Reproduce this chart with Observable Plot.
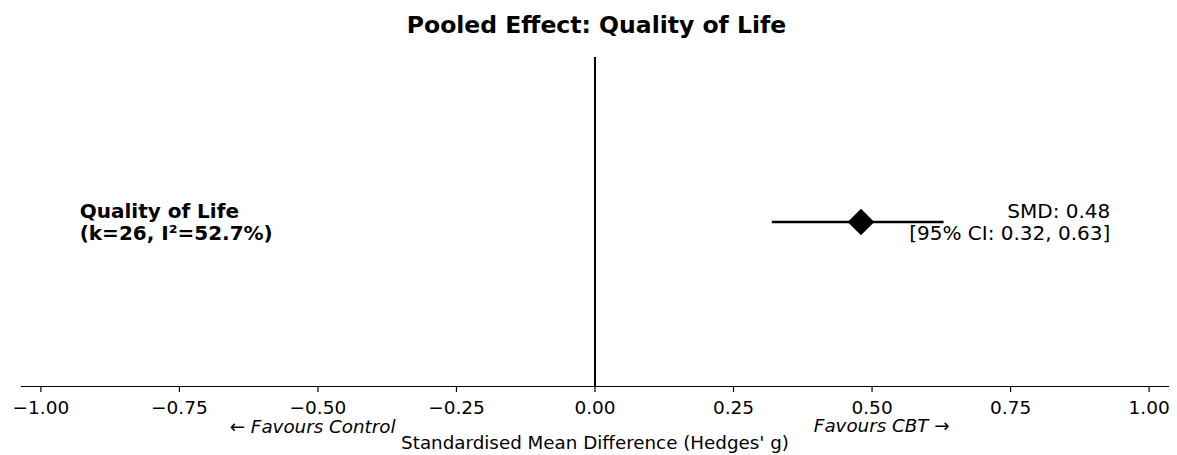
<!DOCTYPE html>
<html>
<head>
<meta charset="utf-8">
<script src="https://cdn.jsdelivr.net/npm/d3@7"></script>
<script src="https://cdn.jsdelivr.net/npm/@observablehq/plot@0.6"></script>
<style>
  body { margin: 0; background: #fff; font-family: "DejaVu Sans", sans-serif; }
  #title { margin-left: 23px; width: 1147px; height: 48px; line-height: 50px; text-align: center;
           font-weight: bold; font-size: 23.5px; color: #000; white-space: nowrap; }
</style>
</head>
<body>
<div id="title">Pooled Effect: Quality of Life</div>
<div id="chart"></div>
<script>
// Pooled estimate for the outcome
const outcomes = ["Quality of Life"];
const studies = [26];
const heterogeneity = [52.7];
const smd = [0.48];
const ciLow = [0.32];
const ciHigh = [0.63];

const xTicks = [-1, -0.75, -0.5, -0.25, 0, 0.25, 0.5, 0.75, 1];
const favourLabels = ["← Favours Control", "Favours CBT →"];
const favourPos = [-0.36, 0.395];
const axisTitle = "Standardised Mean Difference (Hedges' g)";

const rows = outcomes.map((name, i) => ({
  name,
  y: 0,
  smd: smd[i],
  lo: ciLow[i],
  hi: ciHigh[i],
  left: `${name}\n(k=${studies[i]}, I²=${heterogeneity[i].toFixed(1)}%)`,
  right: `SMD: ${smd[i].toFixed(2)}\n[95% CI: ${ciLow[i].toFixed(2)}, ${ciHigh[i].toFixed(2)}]`
}));

const favourControl = [{ t: favourLabels[0], x: favourPos[0] }];
const favourCBT = [{ t: favourLabels[1], x: favourPos[1] }];
const belowAxis = { frameAnchor: "bottom", lineAnchor: "middle", fontSize: 18.3, fill: "#000" };

const chart = Plot.plot({
  width: 1177,
  height: 407,
  marginLeft: 21,
  marginRight: 9,
  marginTop: 9,
  marginBottom: 69,
  style: { fontFamily: "DejaVu Sans, sans-serif", fontSize: "18.5px", color: "#000", background: "#fff" },
  x: { domain: [-1.035, 1.035] },
  y: { domain: [-1, 1], axis: null },
  marks: [
    Plot.frame({ anchor: "bottom", stroke: "#000", strokeWidth: 1.2 }),
    Plot.axisX({ ticks: xTicks, tickFormat: d3.format(".2f"), tickSize: 6, tickPadding: 8,
                 fontSize: 18.5, label: null, stroke: "#000", strokeWidth: 1.2 }),
    Plot.ruleX([0], { stroke: "#000", strokeWidth: 2 }),
    Plot.ruleY(rows, { y: "y", x1: "lo", x2: "hi", stroke: "#000", strokeWidth: 2.5 }),
    Plot.dot(rows, { x: "smd", y: "y", symbol: "diamond2", r: 12, fill: "#000", stroke: "none" }),
    Plot.text(rows, { x: -0.93, y: "y", text: "left", textAnchor: "start", fontWeight: "bold",
                      fontSize: 20, lineHeight: 1.1, fill: "#000" }),
    Plot.text(rows, { x: 0.93, y: "y", text: "right", textAnchor: "end",
                      fontSize: 20, lineHeight: 1.1, fill: "#000" }),
    Plot.text(favourControl, { ...belowAxis, x: "x", text: "t", textAnchor: "end", dy: 41, fontStyle: "italic" }),
    Plot.text(favourCBT, { ...belowAxis, x: "x", text: "t", textAnchor: "start", dy: 40, fontStyle: "italic" }),
    Plot.text([axisTitle], { ...belowAxis, x: 0, text: d => d, dy: 57 })
  ]
});
document.getElementById("chart").appendChild(chart);
</script>
</body>
</html>
